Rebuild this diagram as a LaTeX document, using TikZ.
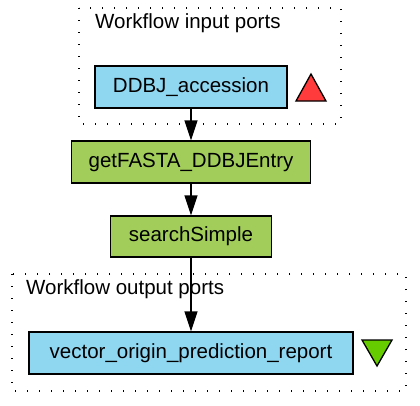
\documentclass[tikz,border=0pt]{standalone}
\usepackage{fontspec}
\setmainfont{Liberation Sans}
\usetikzlibrary{arrows.meta}
\definecolor{portblue}{HTML}{8FD6F0}
\definecolor{procgreen}{HTML}{A2CD5A}
\definecolor{inred}{HTML}{FF3B3B}
\definecolor{outgreen}{HTML}{66CC00}
\tikzset{
  box/.style={draw=black, line width=1.3pt, rectangle, inner sep=0pt, font=\fontsize{20.5}{24}\selectfont},
  portbox/.style={box, fill=portblue},
  procbox/.style={box, fill=procgreen},
  cluster/.style={line width=1.4pt, dash pattern=on 1.4pt off 10.6pt},
  clusterlabel/.style={anchor=west, inner sep=0pt, font=\fontsize{20.5}{24}\selectfont},
  flow/.style={line width=1.3pt, -{Triangle[length=20pt,width=13pt]}},
  tri/.style={draw=black, line width=1.3pt}
}
\begin{document}
\begin{tikzpicture}[x=1pt,y=-1pt]
\useasboundingbox (0,0) rectangle (420,405);
% clusters
\draw[cluster] (79,8) rectangle (341,124);
\node[clusterlabel] (inlabel) at (95,23) {Workflow input ports};
\draw[cluster] (12,274) rectangle (406,391);
\node[clusterlabel] (outlabel) at (26,289) {Workflow output ports};
% nodes
\node[portbox, minimum width=192pt, minimum height=42pt] (ddbj) at (191,87) {DDBJ\_accession};
\node[procbox, minimum width=239pt, minimum height=42pt] (getfasta) at (191,162) {getFASTA\_DDBJEntry};
\node[procbox, minimum width=161pt, minimum height=41pt] (search) at (191,236.5) {searchSimple};
\node[portbox, minimum width=324pt, minimum height=42pt] (vector) at (191,353) {vector\_origin\_prediction\_report};
% triangles
\draw[tri, fill=inred] (296,101) -- (311,74) -- (326,101) -- cycle;
\draw[tri, fill=outgreen] (362,340) -- (392,340) -- (377,366) -- cycle;
% edges
\draw[flow] (ddbj) -- (getfasta);
\draw[flow] (getfasta) -- (search);
\draw[flow] (search) -- (vector);
\end{tikzpicture}
\end{document}
